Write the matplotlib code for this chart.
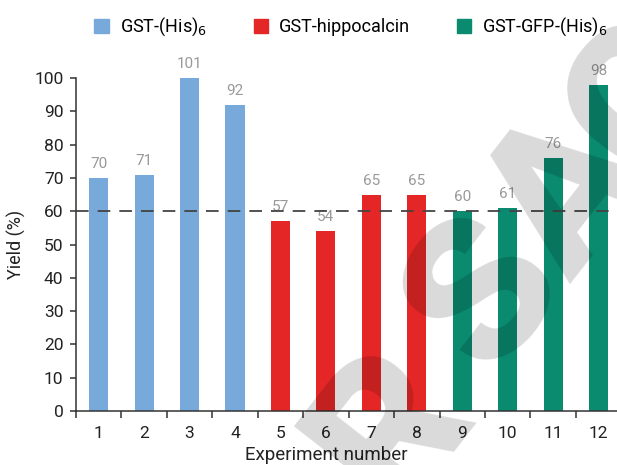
import matplotlib.pyplot as plt
from matplotlib.patches import Patch

plt.rcParams['font.family'] = ['Roboto', 'DejaVu Sans']

# data
experiments = ['1', '2', '3', '4', '5', '6', '7', '8', '9', '10', '11', '12']
yields = [70, 71, 101, 92, 57, 54, 65, 65, 60, 61, 76, 98]
groups = ['GST-(His)$_6$'] * 4 + ['GST-hippocalcin'] * 4 + ['GST-GFP-(His)$_6$'] * 4
group_names = ['GST-(His)$_6$', 'GST-hippocalcin', 'GST-GFP-(His)$_6$']
group_colors = {'GST-(His)$_6$': '#77AADB',
                'GST-hippocalcin': '#E52626',
                'GST-GFP-(His)$_6$': '#0A8A6E'}
threshold = 60
y_max = 100

fig = plt.figure(figsize=(6.17, 4.65), dpi=100)
ax = fig.add_axes([0.123, 0.116, 0.884, 0.716])

x = list(range(1, len(experiments) + 1))
colors = [group_colors[g] for g in groups]
ax.bar(x, yields, width=0.42, color=colors, zorder=2)

# value labels (placed at the clipped bar top)
for xi, v in zip(x, yields):
    ax.annotate(str(v), (xi, min(v, y_max)), xytext=(0, 5), textcoords='offset points',
                ha='center', va='bottom', fontsize=11, color='#999999',
                annotation_clip=False)

ax.axhline(threshold, color='#444444', lw=1.3, dashes=(7, 5), zorder=3)

ax.set_xlim(0.5, 12.5)
ax.set_ylim(0, y_max)
ax.set_yticks(range(0, 101, 10))
ax.set_xticks(x)
ax.set_xticklabels(experiments)
ax.set_xticks([i + 0.5 for i in range(0, 12)], minor=True)

ax.tick_params(axis='x', which='major', length=0, pad=11, labelsize=12.5, labelcolor='#222222')
ax.tick_params(axis='x', which='minor', length=5, width=1.1, color='#333333', direction='out')
ax.tick_params(axis='y', length=4, width=1.1, color='#333333', pad=5, labelsize=12.5,
               labelcolor='#222222')

for side in ['top', 'right']:
    ax.spines[side].set_visible(False)
for side in ['left', 'bottom']:
    ax.spines[side].set_color('#333333')
    ax.spines[side].set_linewidth(1.1)

ax.set_xlabel('Experiment number', fontsize=13.5, color='#222222')
ax.xaxis.set_label_coords(0.459, -0.104)
ax.set_ylabel('Yield (%)', fontsize=13, color='#222222')
ax.yaxis.set_label_coords(-0.091, 0.5)

handles = [Patch(color=group_colors[g], label=g) for g in group_names]
fig.legend(handles=handles, loc='center', bbox_to_anchor=(351 / 617, 1 - 27 / 465),
           ncol=3, frameon=False, fontsize=13, handlelength=0.8, handleheight=0.8,
           handletextpad=0.6, columnspacing=2.6)

# faint watermark, one letter at a time (wide tracking)
wm_letters = ['R', 'S', 'A', 'G']
wm_pos = [(392, 428), (486, 294), (570, 196), (648, 100)]
for letter, (px, py) in zip(wm_letters, wm_pos):
    fig.text(px / 617, 1 - py / 465, letter, fontsize=145, fontweight='black',
             color='black', alpha=0.15, rotation=52, ha='center', va='center', zorder=10)

fig.savefig('out.png', dpi=100)
